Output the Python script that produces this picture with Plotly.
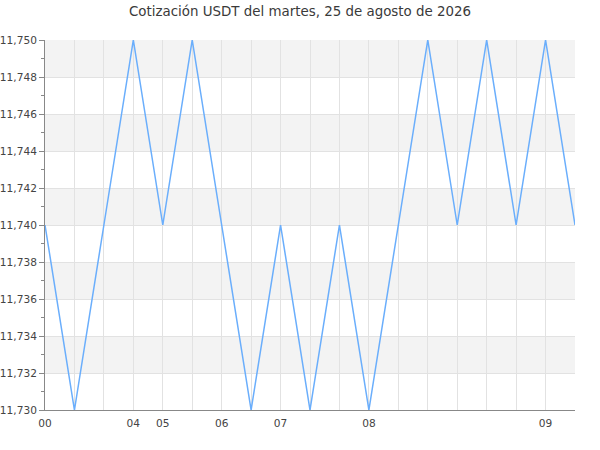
import plotly.graph_objects as go

# cotización USDT, un punto por lectura
hours = ["00", "", "", "04", "05", "", "06", "", "07", "", "", "08",
         "", "", "", "", "", "09", ""]
prices = [11.740, 11.730, 11.740, 11.750, 11.740, 11.750, 11.740, 11.730,
          11.740, 11.730, 11.740, 11.730, 11.740, 11.750, 11.740, 11.750,
          11.740, 11.750, 11.740]
y_ticks = [11.730, 11.732, 11.734, 11.736, 11.738, 11.740,
           11.742, 11.744, 11.746, 11.748, 11.750]

idx = list(range(len(prices)))

fig = go.Figure(go.Scatter(
    x=idx, y=prices, mode="lines",
    line=dict(color="#6aaefc", width=1.5),
    hoverinfo="y",
))

# alternating grey bands between the y grid lines
shapes = []
for i in range(len(y_ticks) - 1):
    if (len(y_ticks) - 2 - i) % 2 == 0:
        shapes.append(dict(type="rect", xref="paper", yref="y",
                           x0=0, x1=1, y0=y_ticks[i], y1=y_ticks[i + 1],
                           fillcolor="#f3f3f3", line_width=0, layer="below"))

fig.update_layout(
    width=600, height=450,
    title=dict(text="Cotización USDT del martes, 25 de agosto de 2026",
               x=0.5, xanchor="center", y=0.986, yanchor="top",
               font=dict(size=13.4, color="#3a3a3a")),
    font=dict(family="DejaVu Sans", size=10.6, color="#444"),
    separators=",.",
    paper_bgcolor="white", plot_bgcolor="white",
    margin=dict(l=45, r=25, t=40, b=40, autoexpand=False),
    showlegend=False,
    shapes=shapes,
)
fig.update_xaxes(
    range=[0, len(prices) - 1], tickmode="array", tickvals=idx, ticktext=hours,
    showgrid=True, gridcolor="#e2e2e2", gridwidth=1,
    showline=True, linecolor="#888", linewidth=1, ticklabelstandoff=3,
    ticks="", zeroline=False, fixedrange=True, automargin=False,
)
fig.update_yaxes(
    range=[y_ticks[0], y_ticks[-1]], tickmode="array", tickvals=y_ticks,
    tickformat=".3f", showgrid=True, gridcolor="#e2e2e2", gridwidth=1,
    showline=True, linecolor="#888", linewidth=1,
    ticks="outside", ticklen=5, tickcolor="#888", ticklabelstandoff=0,
    minor=dict(dtick=0.001, ticks="outside", ticklen=3, tickcolor="#888", showgrid=False),
    zeroline=False, fixedrange=True, automargin=False,
)

# page has a default 8px body margin; drop it so the chart sits at 0,0
fig.write_html("out.html", config={"displayModeBar": False},
               post_script="document.body.style.margin='0';")
